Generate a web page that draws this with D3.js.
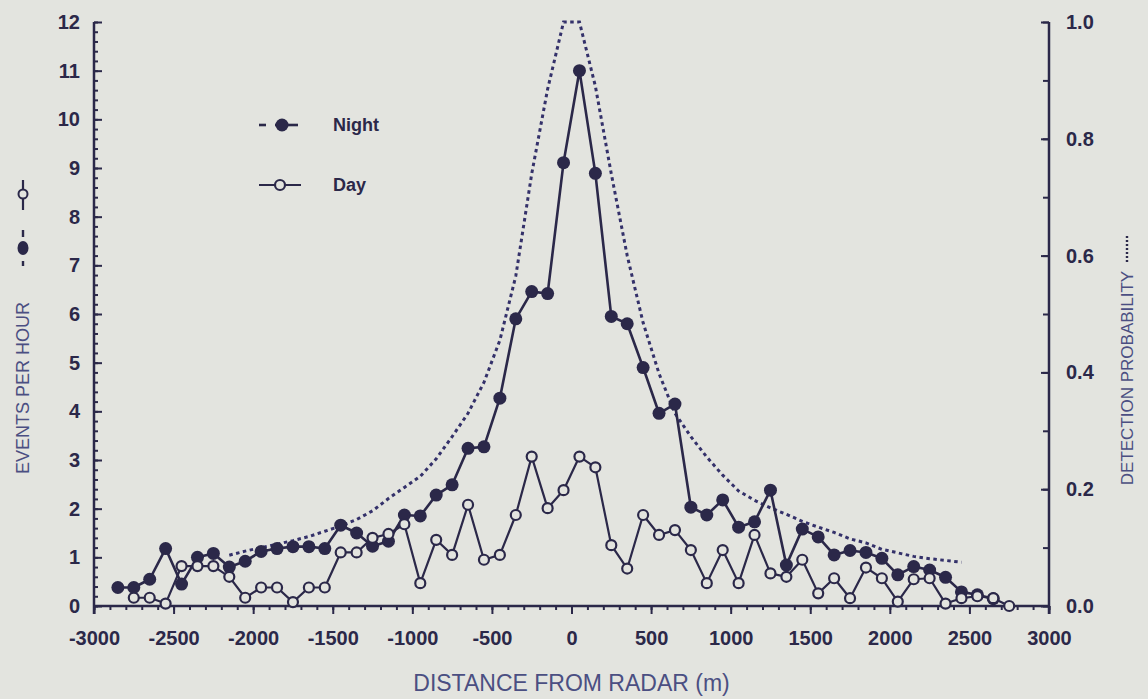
<!DOCTYPE html>
<html>
<head>
<meta charset="utf-8">
<script src="https://cdn.jsdelivr.net/npm/d3@7"></script>
<style>
  html, body { margin: 0; padding: 0; background: #e3e4df; }
  svg { display: block; }
</style>
</head>
<body>
<svg id="chart" width="1148" height="699"></svg>
<script>
// Bin centres (m) along the transect
const distance = [-2850,-2750,-2650,-2550,-2450,-2350,-2250,-2150,-2050,-1950,-1850,-1750,-1650,-1550,-1450,-1350,-1250,-1150,-1050,-950,-850,-750,-650,-550,-450,-350,-250,-150,-50,50,150,250,350,450,550,650,750,850,950,1050,1150,1250,1350,1450,1550,1650,1750,1850,1950,2050,2150,2250,2350,2450,2550,2650,2750];

// Events per hour, night observations
const night = [0.38,0.38,0.55,1.18,0.45,1.0,1.08,0.8,0.92,1.12,1.18,1.22,1.22,1.18,1.66,1.5,1.23,1.33,1.87,1.85,2.28,2.49,3.24,3.27,4.27,5.9,6.46,6.42,9.11,11.0,8.89,5.95,5.8,4.9,3.96,4.15,2.03,1.87,2.18,1.62,1.73,2.38,0.84,1.58,1.42,1.05,1.14,1.1,0.98,0.64,0.81,0.74,0.59,0.29,0.23,0.15,null];

// Events per hour, day observations
const day = [null,0.17,0.17,0.05,0.82,0.82,0.82,0.6,0.17,0.38,0.38,0.08,0.38,0.38,1.1,1.1,1.4,1.48,1.68,0.47,1.36,1.05,2.08,0.95,1.05,1.87,3.07,2.01,2.38,3.07,2.85,1.25,0.77,1.87,1.46,1.56,1.15,0.47,1.15,0.47,1.46,0.67,0.6,0.95,0.26,0.57,0.16,0.79,0.57,0.09,0.55,0.57,0.05,0.16,0.2,0.16,0.0];

// Radar detection probability by distance
const probDistance = [-2150,-2050,-1950,-1850,-1750,-1650,-1550,-1450,-1350,-1250,-1150,-1050,-950,-850,-750,-650,-550,-450,-350,-250,-150,-50,50,150,250,350,450,550,650,750,850,950,1050,1150,1250,1350,1450,1550,1650,1750,1850,1950,2050,2150,2250,2350,2450];
const probability = [0.087,0.094,0.100,0.106,0.112,0.119,0.128,0.137,0.148,0.163,0.184,0.203,0.222,0.252,0.290,0.330,0.383,0.455,0.565,0.740,0.885,1.0,1.0,0.89,0.74,0.60,0.485,0.398,0.33,0.29,0.255,0.224,0.197,0.181,0.168,0.157,0.145,0.135,0.126,0.115,0.108,0.097,0.091,0.085,0.081,0.078,0.075];

// Tick values
const xTicks = [-3000,-2500,-2000,-1500,-1000,-500,0,500,1000,1500,2000,2500,3000];
const yTicks = [0,1,2,3,4,5,6,7,8,9,10,11,12];
const pTicks = [0.0,0.2,0.4,0.6,0.8,1.0];

const ink = "#2b2849";
const titleInk = "#4b4f82";
const bg = "#e3e4df";
const font = "'Liberation Sans', Arial, sans-serif";

const svg = d3.select("#chart");

const plot = { left: 94, right: 1049, top: 22, bottom: 606 };
const x = d3.scaleLinear().domain([-3000, 3000]).range([plot.left, plot.right]);
const y = d3.scaleLinear().domain([0, 12]).range([plot.bottom, plot.top]);
const yp = d3.scaleLinear().domain([0, 1]).range([plot.bottom, plot.top]);

// plain hyphen for negative labels
const intLabel = d => String(d);

// ---- axes ----
function styleAxis(g) {
  g.select(".domain").remove();
  g.selectAll(".tick line").attr("stroke", ink).attr("stroke-width", 2);
  g.selectAll(".tick text")
    .attr("fill", ink)
    .style("font-family", font)
    .style("font-size", "20px")
    .style("font-weight", "bold");
}

// bottom: minor ticks every 100 m, major every 500 m
svg.append("g")
  .attr("transform", `translate(0,${plot.bottom})`)
  .call(d3.axisBottom(x).tickValues(d3.range(-3000, 3001, 100)).tickSize(4).tickFormat(""))
  .call(styleAxis);
svg.append("g")
  .attr("transform", `translate(0,${plot.bottom})`)
  .call(d3.axisBottom(x).tickValues(xTicks).tickSize(8).tickPadding(17).tickFormat(intLabel))
  .call(styleAxis);

// left: minor every 0.2, major every 1, ticks pointing inward
svg.append("g")
  .attr("transform", `translate(${plot.left},0)`)
  .call(d3.axisLeft(y).tickValues(d3.range(0, 12.01, 0.2)).tickSize(-4).tickFormat(""))
  .call(styleAxis);
svg.append("g")
  .attr("transform", `translate(${plot.left},0)`)
  .call(d3.axisLeft(y).tickValues(yTicks).tickSize(-8).tickPadding(14).tickFormat(intLabel))
  .call(styleAxis);

// right: minor every 0.1, major every 0.2, ticks pointing inward
svg.append("g")
  .attr("transform", `translate(${plot.right},0)`)
  .call(d3.axisRight(yp).tickValues(d3.range(0, 1.001, 0.1)).tickSize(-6).tickFormat(""))
  .call(styleAxis);
svg.append("g")
  .attr("transform", `translate(${plot.right},0)`)
  .call(d3.axisRight(yp).tickValues(pTicks).tickSize(-8).tickPadding(17).tickFormat(d3.format(".1f")))
  .call(styleAxis);

// axis frame lines
svg.append("line").attr("x1", plot.left).attr("x2", plot.right + 1)
  .attr("y1", plot.bottom).attr("y2", plot.bottom)
  .attr("stroke", ink).attr("stroke-width", 2.5);
svg.append("line").attr("x1", plot.left).attr("x2", plot.left)
  .attr("y1", plot.top).attr("y2", plot.bottom + 8)
  .attr("stroke", ink).attr("stroke-width", 2.5);
svg.append("line").attr("x1", plot.right).attr("x2", plot.right)
  .attr("y1", plot.top).attr("y2", plot.bottom + 8)
  .attr("stroke", ink).attr("stroke-width", 2.5);

// ---- detection probability (dotted) ----
const probPts = probDistance.map((d, i) => ({ d, v: probability[i] }));
svg.append("path")
  .datum(probPts)
  .attr("fill", "none")
  .attr("stroke", "#34316a")
  .attr("stroke-width", 3)
  .attr("stroke-dasharray", "3.5,3.5")
  .attr("d", d3.line().x(p => x(p.d)).y(p => yp(p.v)));

// ---- event series ----
const nightPts = distance.map((d, i) => ({ d, v: night[i] })).filter(p => p.v !== null);
const dayPts = distance.map((d, i) => ({ d, v: day[i] })).filter(p => p.v !== null);
const evLine = d3.line().x(p => x(p.d)).y(p => y(p.v));

svg.append("path").datum(nightPts)
  .attr("fill", "none").attr("stroke", ink).attr("stroke-width", 2.6)
  .attr("stroke-linejoin", "round").attr("d", evLine);
svg.append("g").selectAll("circle").data(nightPts).join("circle")
  .attr("cx", p => x(p.d)).attr("cy", p => y(p.v)).attr("r", 6.5)
  .attr("fill", ink);

svg.append("path").datum(dayPts)
  .attr("fill", "none").attr("stroke", ink).attr("stroke-width", 2.2)
  .attr("stroke-linejoin", "round").attr("d", evLine);
svg.append("g").selectAll("circle").data(dayPts).join("circle")
  .attr("cx", p => x(p.d)).attr("cy", p => y(p.v)).attr("r", 5)
  .attr("fill", bg).attr("stroke", ink).attr("stroke-width", 2.2);

// ---- legend ----
const legend = svg.append("g");
const nightY = 125, dayY = 185;
// Night
legend.append("line").attr("x1", 259).attr("x2", 266).attr("y1", nightY).attr("y2", nightY)
  .attr("stroke", ink).attr("stroke-width", 2.6);
legend.append("line").attr("x1", 275).attr("x2", 298).attr("y1", nightY).attr("y2", nightY)
  .attr("stroke", ink).attr("stroke-width", 2.6);
legend.append("circle").attr("cx", 282).attr("cy", nightY).attr("r", 6.5).attr("fill", ink);
legend.append("text").attr("x", 333).attr("y", nightY).attr("dy", "0.35em")
  .attr("fill", ink).style("font-family", font).style("font-size", "18px")
  .style("font-weight", "bold").text("Night");
// Day
legend.append("line").attr("x1", 259).attr("x2", 301).attr("y1", dayY).attr("y2", dayY)
  .attr("stroke", ink).attr("stroke-width", 2.2);
legend.append("circle").attr("cx", 280).attr("cy", dayY).attr("r", 5)
  .attr("fill", bg).attr("stroke", ink).attr("stroke-width", 2.2);
legend.append("text").attr("x", 333).attr("y", dayY).attr("dy", "0.35em")
  .attr("fill", ink).style("font-family", font).style("font-size", "18px")
  .style("font-weight", "bold").text("Day");

// ---- axis titles ----
const titleStyle = (t, size) => t.attr("fill", titleInk)
  .style("font-family", font).style("font-size", size + "px");

svg.append("text")
  .attr("x", (plot.left + plot.right) / 2).attr("y", 691)
  .attr("text-anchor", "middle").call(titleStyle, 23)
  .text("DISTANCE FROM RADAR (m)");

// left title with series key
const lt = svg.append("g").attr("transform", "translate(23,388) rotate(-90)");
lt.append("text").attr("x", 0).attr("y", 0).attr("dy", "0.35em")
  .attr("text-anchor", "middle").call(titleStyle, 18).text("EVENTS PER HOUR");
// night key "-●-"
lt.append("line").attr("x1", 122).attr("x2", 127).attr("y1", 0).attr("y2", 0)
  .attr("stroke", ink).attr("stroke-width", 2.4);
lt.append("ellipse").attr("cx", 140).attr("cy", 0).attr("rx", 7).attr("ry", 5.5).attr("fill", ink);
lt.append("line").attr("x1", 151).attr("x2", 158).attr("y1", 0).attr("y2", 0)
  .attr("stroke", ink).attr("stroke-width", 2.4);
// day key "-o-"
lt.append("line").attr("x1", 178).attr("x2", 208).attr("y1", 0).attr("y2", 0)
  .attr("stroke", ink).attr("stroke-width", 2.2);
lt.append("circle").attr("cx", 194).attr("cy", 0).attr("r", 4.5)
  .attr("fill", bg).attr("stroke", ink).attr("stroke-width", 2);

// right title with dotted key
const rt = svg.append("g").attr("transform", "translate(1127,378) rotate(-90)");
rt.append("text").attr("x", 0).attr("y", 0).attr("dy", "0.35em")
  .attr("text-anchor", "middle").call(titleStyle, 17).text("DETECTION PROBABILITY");
rt.append("line").attr("x1", 116).attr("x2", 142).attr("y1", 0).attr("y2", 0)
  .attr("stroke", ink).attr("stroke-width", 2.4).attr("stroke-dasharray", "2,2");
</script>
</body>
</html>
